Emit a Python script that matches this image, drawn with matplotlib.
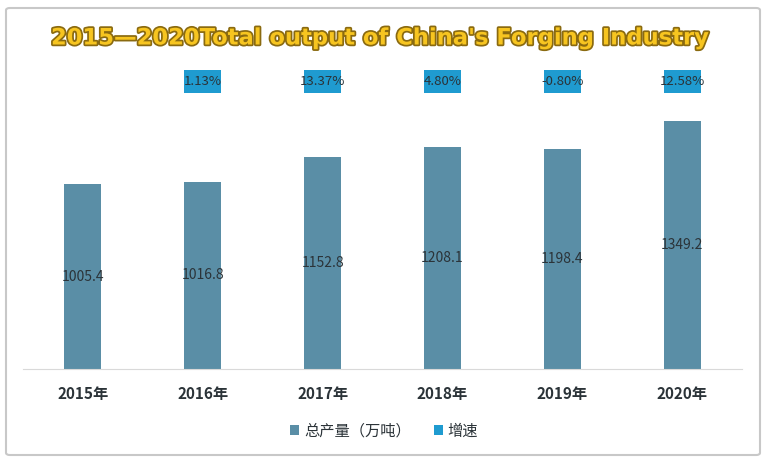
import matplotlib
matplotlib.use("Agg")
import matplotlib.pyplot as plt
import matplotlib.patheffects as pe
from matplotlib.patches import Rectangle, FancyBboxPatch
from matplotlib.transforms import blended_transform_factory

plt.rcParams['font.family'] = ['Noto Sans CJK SC', 'DejaVu Sans']

years = ["2015年", "2016年", "2017年", "2018年", "2019年", "2020年"]
output = [1005.4, 1016.8, 1152.8, 1208.1, 1198.4, 1349.2]
growth = [None, "1.13%", "13.37%", "4.80%", "-0.80%", "12.58%"]
title = "2015—2020Total output of China's Forging Industry"
series_names = ["总产量（万吨）", "增速"]

bar_color = "#5a8ea6"
growth_color = "#1f9bd0"
text_color = "#2b3338"

fig = plt.figure(figsize=(7.68, 4.63), dpi=100)
ax = fig.add_axes([23/768, (463-369)/463, (742-23)/768, (369-60)/463])

x = list(range(len(years)))
bars = ax.bar(x, output, width=0.31, color=bar_color, label=series_names[0])
ax.bar_label(bars, labels=[f"{v:.1f}" for v in output], label_type='center',
             fontsize=10, color=text_color, fontweight='medium')

ax.set_xlim(-0.5, len(years) - 0.5)
ax.set_ylim(0, 1680)
ax.set_yticks([])
for s in ["top", "left", "right"]:
    ax.spines[s].set_visible(False)
ax.spines["bottom"].set_color("#d9d9d9")
ax.set_xticks(x)
ax.set_xticklabels(years, fontsize=11, fontweight='bold', color=text_color)
ax.tick_params(axis='x', length=0, pad=12)

trans = blended_transform_factory(ax.transData, ax.transAxes)
bw = 0.31
for i, g in enumerate(growth):
    if g is None:
        continue
    ax.add_patch(Rectangle((i - bw/2, 0.893), bw, 0.074, transform=trans,
                           facecolor=growth_color, edgecolor='none', clip_on=False))
    ax.text(i, 0.930, g, transform=trans, ha='center', va='center',
            fontsize=9.5, color=text_color, fontweight='medium')

# legend
h1 = Rectangle((0, 0), 1, 1, facecolor=bar_color)
h2 = Rectangle((0, 0), 1, 1, facecolor=growth_color)
fig.legend([h1, h2], series_names, loc='center', bbox_to_anchor=(384/768, 1 - 431/463),
           ncol=2, frameon=False, fontsize=11, handlelength=0.6, handleheight=0.6,
           handletextpad=0.3, columnspacing=1.5, labelcolor=text_color)

# title
fig.text(380/768, 1 - 38/463, title, ha='center', va='center', fontsize=16.3,
         fontweight='bold', color="#f7c520", family=['DejaVu Sans'],
         path_effects=[pe.withStroke(linewidth=2.5, foreground="#8a6a10")])

# outer frame
fig.patches.append(FancyBboxPatch((6/768, 8/463), 754/768, 447/463,
                                  boxstyle="round,pad=0,rounding_size=0.005",
                                  transform=fig.transFigure, facecolor='none',
                                  edgecolor="#c8c8c8", linewidth=1.5))

fig.savefig("out.png", dpi=100)
